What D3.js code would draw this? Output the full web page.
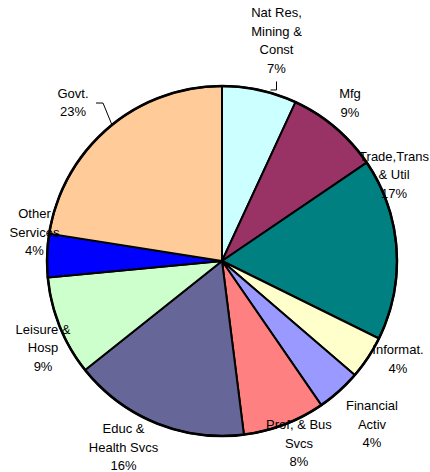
<!DOCTYPE html>
<html>
<head>
<meta charset="utf-8">
<script src="https://cdn.jsdelivr.net/npm/d3@7"></script>
<style>
  html, body { margin: 0; padding: 0; background: #fff; }
  svg { display: block; }
  text { font-family: "Liberation Sans", Arial, sans-serif; font-size: 13px; fill: #000; }
</style>
</head>
<body>
<svg id="chart" width="430" height="472"></svg>
<script>
// Employment share by sector (percent of total), clockwise from 12 o'clock
const sectors = [
  "Nat Res,\nMining &\nConst", "Mfg", "Trade,Trans\n& Util", "Informat.",
  "Financial\nActiv", "Prof, & Bus\nSvcs", "Educ &\nHealth Svcs",
  "Leisure &\nHosp", "Other\nServices", "Govt."
];
const shares = [6.9, 8.6, 16.8, 4.0, 4.1, 7.6, 16.3, 9.2, 4.0, 22.5];
const colors = ["#CCFFFF", "#993366", "#008080", "#FFFFCC", "#9999FF",
                "#FF8080", "#666699", "#CCFFCC", "#0000FF", "#FFCC99"];

// Label layout: offsets from a point 200px out along each slice's mid angle
const labelNudge = [[11.5, -25.2], [-1.4, -5.5], [-27.5, -72.7], [9.2, -12.3], [16.3, 14.3],
                    [5.7, -4.9], [-23.1, 0.7], [6.5, 11.7], [12.4, -22.7], [-19.1, -6.4]];
// Leader lines (relative to label centre), only for labels that sit away from their slice
const leaders = {
  0: [[0, 41], [0, 49.5], [-6, 49.5]],
  9: [[23, 0.5], [30, 0.5], [39, 22.5]]
};

const cx = 222, cy = 261, R = 175, labelR = 200, lineH = 18.5;
const svg = d3.select("#chart");
const g = svg.append("g").attr("transform", `translate(${cx},${cy})`);

const total = d3.sum(shares);
const pie = d3.pie().sort(null).value(d => d)(shares);
const arc = d3.arc().innerRadius(0).outerRadius(R);

g.selectAll("path.slice")
  .data(pie)
  .join("path")
  .attr("class", "slice")
  .attr("d", arc)
  .attr("fill", (d, i) => colors[i])
  .attr("stroke", "#000")
  .attr("stroke-width", 2)
  .attr("stroke-linejoin", "round");

g.append("circle")
  .attr("r", R)
  .attr("fill", "none")
  .attr("stroke", "#000")
  .attr("stroke-width", 2.5);

// Labels
pie.forEach((d, i) => {
  const mid = (d.startAngle + d.endAngle) / 2;
  const x = labelR * Math.sin(mid) + labelNudge[i][0];
  const y = -labelR * Math.cos(mid) + labelNudge[i][1];
  const lines = sectors[i].split("\n").concat([Math.round(d.value / total * 100) + "%"]);

  if (leaders[i]) {
    const pts = leaders[i].map(p => [x + p[0], y + p[1]]);
    g.append("path")
      .attr("d", d3.line()(pts))
      .attr("fill", "none")
      .attr("stroke", "#000")
      .attr("stroke-width", 1);
  }

  const t = g.append("text").attr("text-anchor", "middle");
  lines.forEach((ln, k) => {
    t.append("tspan")
      .attr("x", x)
      .attr("y", y + (k - (lines.length - 1) / 2) * lineH + 4.6)
      .text(ln);
  });
});
</script>
</body>
</html>
